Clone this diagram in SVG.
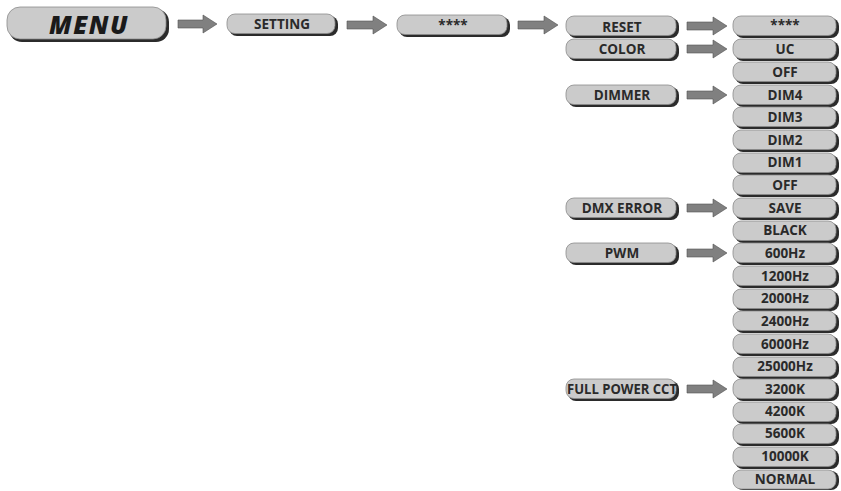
<svg xmlns="http://www.w3.org/2000/svg" width="841" height="491" viewBox="0 0 841 491">
<defs>
<style>
.sh{fill:#2b2b2b}
.bx{fill:#cbcbcb;stroke:#8c8c8c;stroke-width:0.8}
.t{font-family:"Open Sans","Liberation Sans",sans-serif;font-weight:700;font-size:13.5px;fill:#2a2a2a;text-anchor:middle}
.ar{fill:#808080;stroke:#505050;stroke-width:0.6}
</style>
</defs>
<rect width="841" height="491" fill="#ffffff"/>
<g id="menu"><rect class="sh" x="9" y="9" width="160" height="33" rx="13"/><rect class="bx" x="7" y="7" width="159" height="32" rx="13"/><text x="89" y="34" font-family="'Open Sans','Liberation Sans',sans-serif" font-weight="800" font-style="italic" font-size="25" letter-spacing="1.5" fill="#1a1a1a" text-anchor="middle">MENU</text></g>
<g id="setting"><rect class="sh" x="229" y="16" width="109" height="20" rx="8"/><rect class="bx" x="227" y="14" width="108" height="19.5" rx="8"/><text class="t" x="282" y="29" font-size="12">SETTING</text></g>
<g id="pass"><rect class="sh" x="399" y="17" width="111" height="20" rx="8"/><rect class="bx" x="397" y="15" width="110" height="19.5" rx="8"/><text class="t" x="453" y="30" font-size="9">****</text></g>
<g id="left">
<g id="reset"><rect class="sh" x="568" y="18" width="111" height="20" rx="8"/><rect class="bx" x="566" y="16" width="110" height="19.5" rx="8"/><text class="t" x="622" y="32">RESET</text></g>
<g id="color"><rect class="sh" x="568" y="41" width="111" height="20" rx="8"/><rect class="bx" x="566" y="39" width="110" height="19.5" rx="8"/><text class="t" x="622" y="54">COLOR</text></g>
<g id="dimmer"><rect class="sh" x="568" y="87" width="111" height="20" rx="8"/><rect class="bx" x="566" y="85" width="110" height="19.5" rx="8"/><text class="t" x="622" y="100">DIMMER</text></g>
<g id="dmx"><rect class="sh" x="568" y="200" width="111" height="20" rx="8"/><rect class="bx" x="566" y="198" width="110" height="19.5" rx="8"/><text class="t" x="622" y="213">DMX ERROR</text></g>
<g id="pwm"><rect class="sh" x="568" y="245" width="111" height="20" rx="8"/><rect class="bx" x="566" y="243" width="110" height="19.5" rx="8"/><text class="t" x="622" y="258">PWM</text></g>
<g id="cct"><rect class="sh" x="568" y="381" width="111" height="20" rx="8"/><rect class="bx" x="566" y="379" width="110" height="19.5" rx="8"/><text class="t" x="622" y="394" textLength="110" lengthAdjust="spacingAndGlyphs">FULL POWER CCT</text></g>
</g>
<g id="right">
<g id="r0"><rect class="sh" x="735" y="18" width="104" height="20" rx="8"/><rect class="bx" x="733" y="16" width="103" height="19.5" rx="8"/><text class="t" x="785" y="30" font-size="9">****</text></g>
<g id="r1"><rect class="sh" x="735" y="41" width="104" height="20" rx="8"/><rect class="bx" x="733" y="39" width="103" height="19.5" rx="8"/><text class="t" x="785" y="54">UC</text></g>
<g id="r2"><rect class="sh" x="735" y="64" width="104" height="20" rx="8"/><rect class="bx" x="733" y="62" width="103" height="19.5" rx="8"/><text class="t" x="785" y="77">OFF</text></g>
<g id="r3"><rect class="sh" x="735" y="87" width="104" height="20" rx="8"/><rect class="bx" x="733" y="85" width="103" height="19.5" rx="8"/><text class="t" x="785" y="100">DIM4</text></g>
<g id="r4"><rect class="sh" x="735" y="109" width="104" height="20" rx="8"/><rect class="bx" x="733" y="107" width="103" height="19.5" rx="8"/><text class="t" x="785" y="122">DIM3</text></g>
<g id="r5"><rect class="sh" x="735" y="132" width="104" height="20" rx="8"/><rect class="bx" x="733" y="130" width="103" height="19.5" rx="8"/><text class="t" x="785" y="145">DIM2</text></g>
<g id="r6"><rect class="sh" x="735" y="155" width="104" height="20" rx="8"/><rect class="bx" x="733" y="153" width="103" height="19.5" rx="8"/><text class="t" x="785" y="167">DIM1</text></g>
<g id="r7"><rect class="sh" x="735" y="177" width="104" height="20" rx="8"/><rect class="bx" x="733" y="175" width="103" height="19.5" rx="8"/><text class="t" x="785" y="190">OFF</text></g>
<g id="r8"><rect class="sh" x="735" y="200" width="104" height="20" rx="8"/><rect class="bx" x="733" y="198" width="103" height="19.5" rx="8"/><text class="t" x="785" y="213">SAVE</text></g>
<g id="r9"><rect class="sh" x="735" y="223" width="104" height="20" rx="8"/><rect class="bx" x="733" y="221" width="103" height="19.5" rx="8"/><text class="t" x="785" y="235">BLACK</text></g>
<g id="r10"><rect class="sh" x="735" y="245" width="104" height="20" rx="8"/><rect class="bx" x="733" y="243" width="103" height="19.5" rx="8"/><text class="t" x="785" y="258">600Hz</text></g>
<g id="r11"><rect class="sh" x="735" y="268" width="104" height="20" rx="8"/><rect class="bx" x="733" y="266" width="103" height="19.5" rx="8"/><text class="t" x="785" y="281">1200Hz</text></g>
<g id="r12"><rect class="sh" x="735" y="291" width="104" height="20" rx="8"/><rect class="bx" x="733" y="289" width="103" height="19.5" rx="8"/><text class="t" x="785" y="303">2000Hz</text></g>
<g id="r13"><rect class="sh" x="735" y="313" width="104" height="20" rx="8"/><rect class="bx" x="733" y="311" width="103" height="19.5" rx="8"/><text class="t" x="785" y="326">2400Hz</text></g>
<g id="r14"><rect class="sh" x="735" y="336" width="104" height="20" rx="8"/><rect class="bx" x="733" y="334" width="103" height="19.5" rx="8"/><text class="t" x="785" y="349">6000Hz</text></g>
<g id="r15"><rect class="sh" x="735" y="359" width="104" height="20" rx="8"/><rect class="bx" x="733" y="357" width="103" height="19.5" rx="8"/><text class="t" x="785" y="371">25000Hz</text></g>
<g id="r16"><rect class="sh" x="735" y="381" width="104" height="20" rx="8"/><rect class="bx" x="733" y="379" width="103" height="19.5" rx="8"/><text class="t" x="785" y="394">3200K</text></g>
<g id="r17"><rect class="sh" x="735" y="404" width="104" height="20" rx="8"/><rect class="bx" x="733" y="402" width="103" height="19.5" rx="8"/><text class="t" x="785" y="416">4200K</text></g>
<g id="r18"><rect class="sh" x="735" y="426" width="104" height="20" rx="8"/><rect class="bx" x="733" y="424" width="103" height="19.5" rx="8"/><text class="t" x="785" y="438">5600K</text></g>
<g id="r19"><rect class="sh" x="735" y="449" width="104" height="20" rx="8"/><rect class="bx" x="733" y="447" width="103" height="19.5" rx="8"/><text class="t" x="785" y="461">10000K</text></g>
<g id="r20"><rect class="sh" x="735" y="471" width="104" height="19" rx="8"/><rect class="bx" x="733" y="470" width="103" height="19" rx="8"/><text class="t" x="785" y="484">NORMAL</text></g>
</g>
<g id="connectors">
<polygon class="ar" points="178,20 203,20 203,15 217,24 203,33 203,28 178,28"/>
<polygon class="ar" points="347,21 373,21 373,16 387,25 373,34 373,29 347,29"/>
<polygon class="ar" points="518,21 544,21 544,16 558,25 544,34 544,29 518,29"/>
<polygon class="ar" points="687,22 713,22 713,17 727,26 713,35 713,30 687,30"/>
<polygon class="ar" points="687,45 713,45 713,40 727,49 713,58 713,53 687,53"/>
<polygon class="ar" points="687,91 713,91 713,86 727,95 713,104 713,99 687,99"/>
<polygon class="ar" points="687,204 713,204 713,199 727,208 713,217 713,212 687,212"/>
<polygon class="ar" points="687,249 713,249 713,244 727,253 713,262 713,257 687,257"/>
<polygon class="ar" points="687,385 713,385 713,380 727,389 713,398 713,393 687,393"/>
</g>
</svg>
